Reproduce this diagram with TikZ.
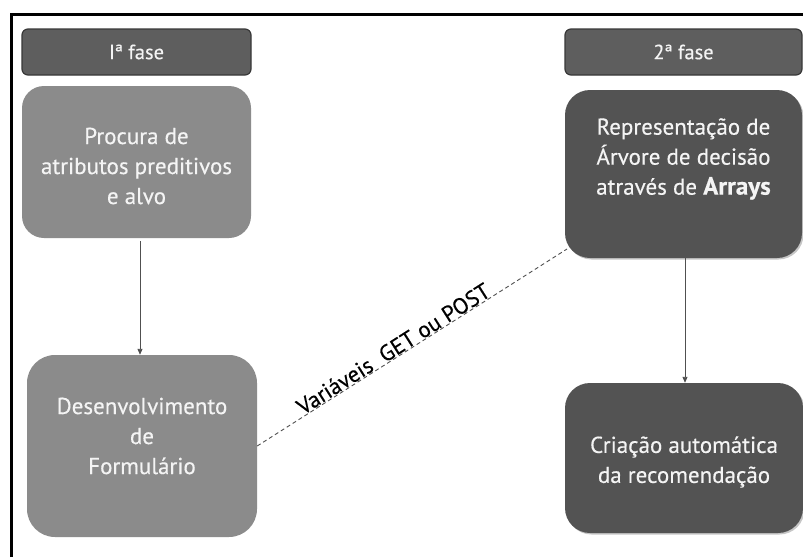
\documentclass[tikz,border=0pt]{standalone}
\usepackage{fontspec}
\setmainfont{PT Sans}
\newfontfamily\stepfont{PT Sans}[FakeBold=0.35]
\usetikzlibrary{arrows.meta,shadows}
\definecolor{hdrfill}{HTML}{5E5E5E}
\definecolor{hdrline}{HTML}{383838}
\definecolor{lightbox}{HTML}{8B8B8B}
\definecolor{darkbox}{HTML}{535353}
\definecolor{boxtext}{HTML}{F4F4F4}
\definecolor{linkgray}{HTML}{505050}
\begin{document}
\begin{tikzpicture}[x=1pt,y=-1pt,
  header/.style={draw=hdrline, fill=hdrfill, line width=1.2pt, rounded corners=6pt,
    inner sep=0pt, minimum width=229pt, minimum height=46pt},
  hdrtext/.style={text=boxtext, font=\stepfont\fontsize{20.5}{22}\selectfont, inner sep=0pt},
  lightstep/.style={fill=lightbox, inner sep=0pt},
  darkstep/.style={fill=darkbox, inner sep=0pt,
    drop shadow={shadow xshift=1.5pt, shadow yshift=-1.5pt, opacity=0.45}},
  steptext/.style={text=boxtext, align=center, inner sep=0pt,
    font=\stepfont\fontsize{23}{30}\selectfont},
  flow/.style={draw=linkgray, line width=0.9pt, -{Triangle[length=6pt,width=5pt]}},
  link/.style={draw=linkgray, line width=0.9pt, dash pattern=on 4pt off 3pt}]
\useasboundingbox (0,0) rectangle (803,557);

% outer frame (left and top edges)
\draw[line width=3pt] (11.5,557) -- (11.5,14) -- (803,14);

% phase headers
\node[header] (h1) at (136.5,52) {};
\node[hdrtext] (h1t) at (h1) {Iª fase};
\node[header, minimum width=237pt] (h2) at (683.5,52) {};
\node[hdrtext] (h2t) at (h2) {2ª fase};

% phase 1 steps
\node[lightstep, rounded corners=22pt, minimum width=229pt, minimum height=152pt] (p1) at (136.5,162) {};
\node[steptext] (p1t) at (136.5,166) {Procura de\\atributos preditivos\\e alvo};
\node[lightstep, rounded corners=28pt, minimum width=230pt, minimum height=182pt] (p3) at (142,446) {};
\node[steptext] (p3t) at (142,436) {Desenvolvimento\\de\\Formulário};

% phase 2 steps
\node[darkstep, rounded corners=25pt, minimum width=237pt, minimum height=168pt] (p2) at (683.5,174) {};
\node[steptext] (p2t) at (683.5,159) {Representação de\\Árvore de decisão\\através de \textbf{\fontsize{25}{30}\selectfont Arrays}};
\node[darkstep, rounded corners=25pt, minimum width=238pt, minimum height=150pt] (p4) at (684,458) {};
\node[steptext] (p4t) at (684,462) {Criação automática\\da recomendação};

% connectors
\draw[flow, shorten <=3pt] ([xshift=3.5pt]p1.south) -- ([xshift=3.5pt]p1.south |- p3.north);
\draw[flow] ([xshift=1.5pt]p2.south) -- ([xshift=1.5pt]p2.south |- p4.north);
\coordinate (d2) at (567,249);
\draw[link] (p3.east) -- (d2)
  node[sloped, above, pos=0.455, inner sep=0.5pt, font=\stepfont\fontsize{22.5}{24}\selectfont] (lbl) {Variáveis~~GET ou POST};
\end{tikzpicture}
\end{document}
